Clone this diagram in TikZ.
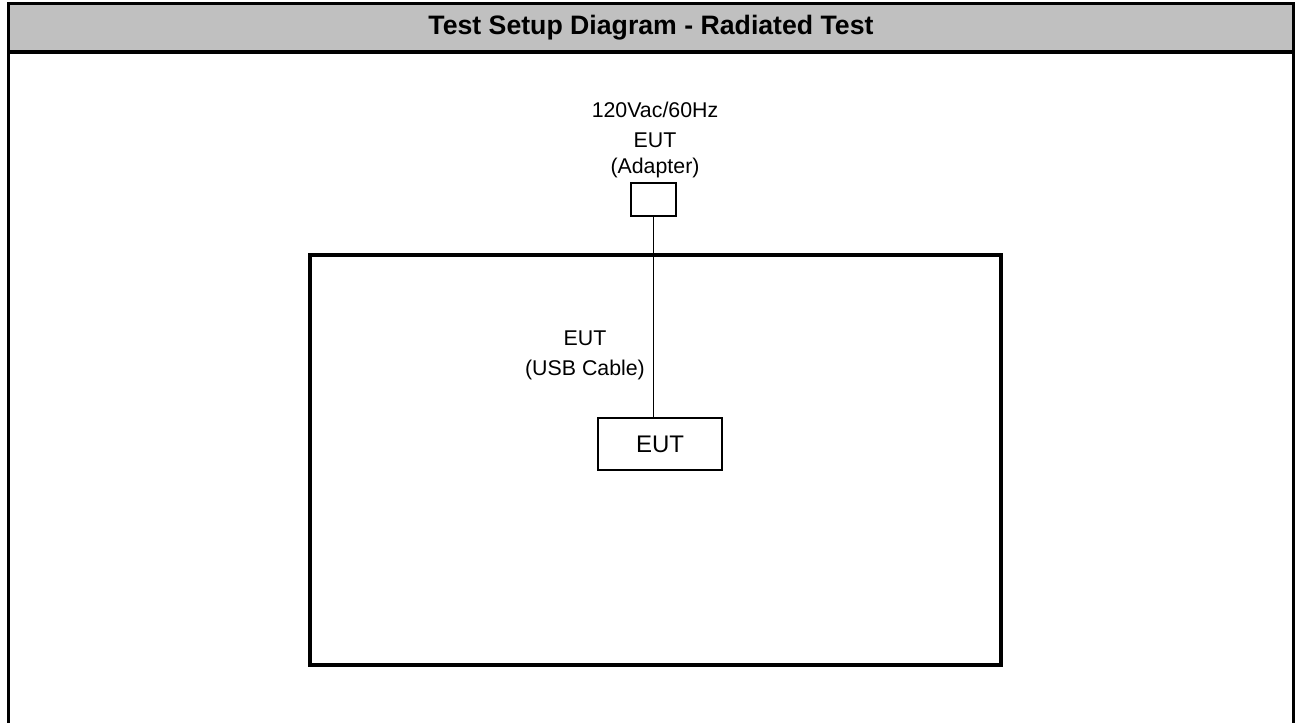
\documentclass[tikz,border=0pt]{standalone}
\usepackage{fontspec}
\setmainfont{Liberation Sans}
\usetikzlibrary{positioning}
\definecolor{headgray}{RGB}{192,192,192}

\begin{document}
\begin{tikzpicture}[x=0.75pt,y=-0.75pt,{box/.style={rectangle,draw=black,line width=1.2pt,inner sep=0pt}},{lbl/.style={font=\fontsize{16}{18}\selectfont,inner sep=0pt}},{frame/.style={draw=black,line width=2.3pt}}]
		\useasboundingbox (0,0) rectangle (1295,722);
		%%header
		\fill [headgray] (8.5,3.5) rectangle (1293.5,52);
		\draw [frame] (8.5,730) -- (8.5,3.5) -- (1293.5,3.5) -- (1293.5,730);
		\draw [frame] (8.5,52) -- (1293.5,52);
		\node at (651,28) [font=\fontsize{20}{22}\selectfont\bfseries] (title) {Test Setup Diagram - Radiated Test};
		%%room
		\draw [black,line width=3pt] (310,255) rectangle (1001,665);
		%%adapter
		\node at (655,110) [lbl] (mains) {120Vac/60Hz};
		\node at (655,140) [lbl] (adaptername) {EUT};
		\node at (655,168) [lbl] (adapterlbl) {(Adapter)};
		\node at (653.5,199.5) [box,minimum width=33.75pt,minimum height=24.75pt] (adapter) {};
		%%eut
		\node at (660,444) [box,minimum width=93pt,minimum height=39pt,font=\fontsize{18}{21}\selectfont] (eut) {EUT};
		\node at (585,338) [lbl] (cablename) {EUT};
		\node at (585,370) [lbl] (cablelbl) {(USB Cable)};
		%%cable
		\draw [black,line width=1.2pt] (adapter.south) -- (adapter.south |- eut.north);
	\end{tikzpicture}
\end{document}
